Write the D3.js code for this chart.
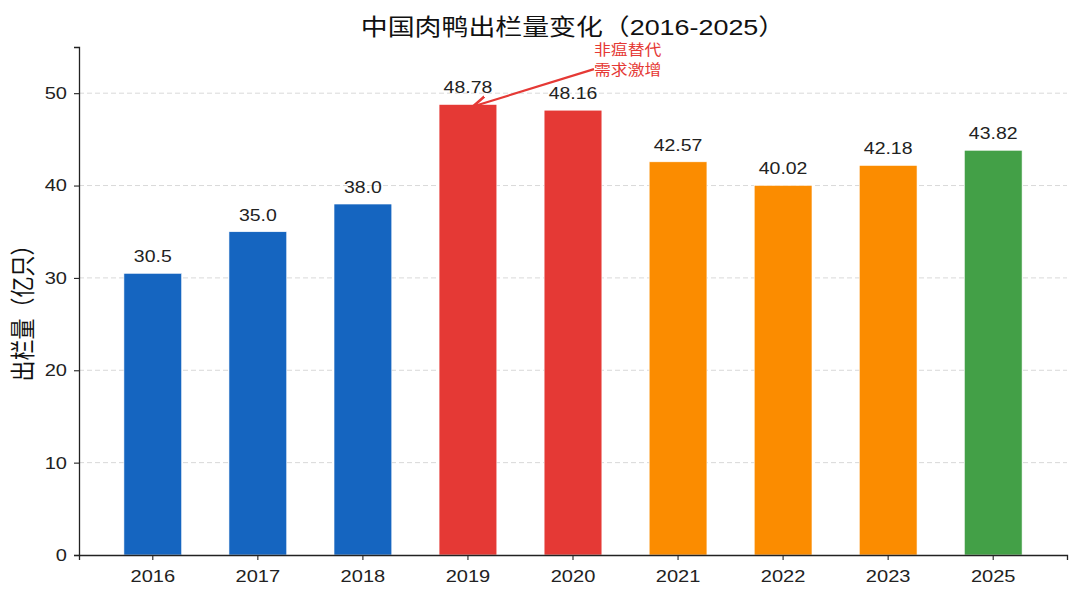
<!DOCTYPE html>
<html>
<head>
<meta charset="utf-8">
<script src="https://cdn.jsdelivr.net/npm/d3@7"></script>
<style>
  body { margin: 0; background: #fff; }
  svg text { font-family: "Liberation Sans", "Noto Sans CJK SC", sans-serif; }
</style>
</head>
<body>
<svg width="1080" height="601"></svg>
<script>
// data
var years = ["2016", "2017", "2018", "2019", "2020", "2021", "2022", "2023", "2025"];
var output = [30.5, 35.0, 38.0, 48.78, 48.16, 42.57, 40.02, 42.18, 43.82];
var labels = ["30.5", "35.0", "38.0", "48.78", "48.16", "42.57", "40.02", "42.18", "43.82"];
var barColors = ["#1565C0", "#1565C0", "#1565C0", "#E53935", "#E53935", "#FB8C00", "#FB8C00", "#FB8C00", "#43A047"];
var yTicks = [0, 10, 20, 30, 40, 50];
var noteLines = ["非瘟替代", "需求激增"];
var noteTarget = {year: "2019", value: 48.78};

var svg = d3.select("svg");

var margin = {left: 79, right: 1067, top: 47, bottom: 555};
var sx = 1.18; // the glyphs in the picture are a bit wide

var x = d3.scaleBand()
	.domain(years)
	.range([margin.left, margin.right])
	.paddingInner(0.45)
	.paddingOuter(0.4275);

var y = d3.scaleLinear()
	.domain([0, 55])
	.range([margin.bottom, margin.top]);

// fractional category position (for the annotation text)
function xAt(i){
	return x(years[0]) + x.bandwidth() / 2 + i * x.step();
}

// move x/y into a transform so the text can be widened
function stretch(sel){
	sel.each(function(){
		var t = d3.select(this),
			tx = +t.attr("x") || 0,
			ty = +t.attr("y") || 0;
		t.attr("x", 0).attr("y", 0)
			.attr("transform", "translate(" + tx + "," + ty + ") scale(" + sx + ",1)");
	});
}

// grid
svg.append("g")
	.selectAll("line")
	.data(yTicks.slice(1))
	.enter()
	.append("line")
	.attr("x1", margin.left)
	.attr("x2", margin.right)
	.attr("y1", function(d){ return y(d); })
	.attr("y2", function(d){ return y(d); })
	.attr("stroke", "#d9d9d9")
	.attr("stroke-width", 1)
	.attr("stroke-dasharray", "5,3");

// bars
svg.append("g")
	.selectAll("rect")
	.data(output)
	.enter()
	.append("rect")
	.attr("x", function(d, i){ return x(years[i]); })
	.attr("y", function(d){ return y(d); })
	.attr("width", x.bandwidth())
	.attr("height", function(d){ return y(0) - y(d); })
	.attr("fill", function(d, i){ return barColors[i]; })
	.attr("stroke", "#fff")
	.attr("stroke-width", 0.6);

// value labels
svg.append("g")
	.selectAll("text")
	.data(output)
	.enter()
	.append("text")
	.attr("x", function(d, i){ return x(years[i]) + x.bandwidth() / 2; })
	.attr("y", function(d){ return y(d) - 11; })
	.attr("text-anchor", "middle")
	.attr("font-size", 16.5)
	.attr("fill", "#222")
	.text(function(d, i){ return labels[i]; })
	.call(stretch);

// axes
var xAxis = svg.append("g")
	.attr("transform", "translate(0," + margin.bottom + ")")
	.call(d3.axisBottom(x).tickSizeOuter(0).tickSize(5).tickPadding(10));

var yAxis = svg.append("g")
	.attr("transform", "translate(" + margin.left + ",0)")
	.call(d3.axisLeft(y).tickValues(yTicks).tickSizeOuter(0).tickSize(5).tickPadding(7));

[xAxis, yAxis].forEach(function(a){
	a.select(".domain").attr("stroke", "#222").attr("stroke-width", 1.3);
	a.selectAll(".tick line").attr("stroke", "#222").attr("stroke-width", 1.1);
	a.selectAll(".tick text")
		.attr("font-size", 17)
		.attr("fill", "#222")
		.style("font-family", "'Liberation Sans', 'Noto Sans CJK SC', sans-serif")
		.call(stretch);
});

// title
svg.append("text")
	.attr("x", (margin.left + margin.right) / 2)
	.attr("y", 35)
	.attr("text-anchor", "middle")
	.attr("font-size", 22.8)
	.attr("fill", "#111")
	.text("中国肉鸭出栏量变化（2016-2025）")
	.call(stretch);

// y label
svg.append("text")
	.attr("transform", "translate(32," + ((margin.top + margin.bottom) / 2 + 7) + ") scale(" + sx + ",1) rotate(-90)")
	.attr("text-anchor", "middle")
	.attr("font-size", 21)
	.attr("fill", "#111")
	.text("出栏量（亿只）");

// annotation
svg.append("defs").append("marker")
	.attr("id", "arrowHead")
	.attr("viewBox", "0 0 10 10")
	.attr("refX", 9)
	.attr("refY", 5)
	.attr("markerWidth", 7)
	.attr("markerHeight", 7)
	.attr("orient", "auto")
	.append("path")
	.attr("d", "M0,1 L9,5 L0,9")
	.attr("fill", "none")
	.attr("stroke", "#E53935")
	.attr("stroke-width", 1.6);

var tip = {x: x(noteTarget.year) + x.bandwidth() / 2 + 5, y: y(noteTarget.value) + 2};
var tail = {x: xAt(4.2), y: y(52.6)};

svg.append("line")
	.attr("x1", tail.x)
	.attr("y1", tail.y)
	.attr("x2", tip.x)
	.attr("y2", tip.y)
	.attr("stroke", "#E53935")
	.attr("stroke-width", 2.2)
	.attr("marker-end", "url(#arrowHead)");

svg.append("g")
	.selectAll("text")
	.data(noteLines)
	.enter()
	.append("text")
	.attr("x", xAt(4.52))
	.attr("y", function(d, i){ return y(54.65) + 5 + i * 20; })
	.attr("text-anchor", "middle")
	.attr("font-size", 14.3)
	.attr("fill", "#E53935")
	.text(function(d){ return d; })
	.call(stretch);
</script>
</body>
</html>
